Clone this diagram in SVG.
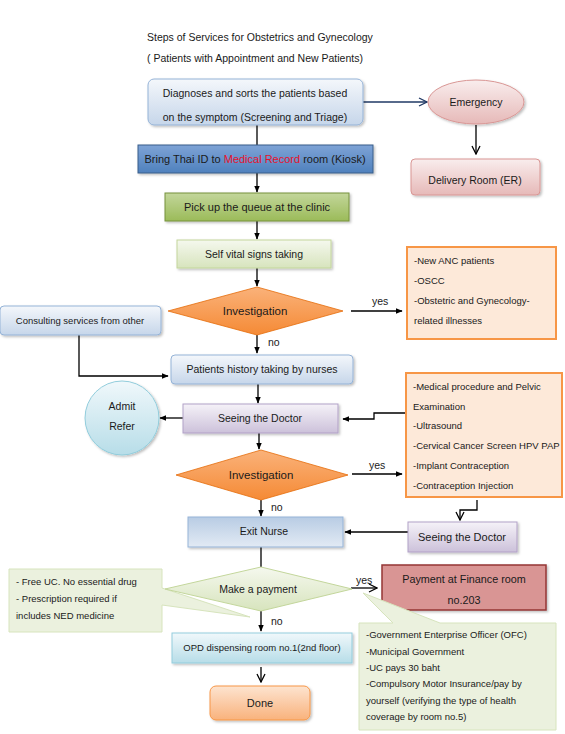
<svg xmlns="http://www.w3.org/2000/svg" width="565" height="734" viewBox="0 0 565 734">
<style>
text{font-family:"Liberation Sans",Arial,sans-serif;font-size:10.5px;fill:#1a1a1a}
.c{text-anchor:middle}
.sm{font-size:9.5px}
.ln{fill:none;stroke:#000;stroke-width:1.3}
</style>
<defs>
<marker id="ah" viewBox="0 0 10 10" refX="9" refY="5" markerWidth="7" markerHeight="7" orient="auto" markerUnits="userSpaceOnUse"><path d="M0,1 L10,5 L0,9 z" fill="#000"/></marker>
<marker id="ao" viewBox="0 0 10 10" refX="9" refY="5" markerWidth="10" markerHeight="10" orient="auto" markerUnits="userSpaceOnUse"><path d="M1,1 L9,5 L1,9" fill="none" stroke="#1f3864" stroke-width="1.3"/></marker>
<marker id="ak" viewBox="0 0 10 10" refX="9" refY="5" markerWidth="10" markerHeight="10" orient="auto" markerUnits="userSpaceOnUse"><path d="M1,1 L9,5 L1,9" fill="none" stroke="#000" stroke-width="1.3"/></marker>
<filter id="sh" x="-10%" y="-10%" width="120%" height="130%"><feDropShadow dx="1.5" dy="1.5" stdDeviation="1" flood-color="#000" flood-opacity="0.25"/></filter>
<linearGradient id="gBl" x1="0" y1="0" x2="0" y2="1"><stop offset="0" stop-color="#f4f7fb"/><stop offset="1" stop-color="#c6d6ea"/></linearGradient>
<linearGradient id="gBm" x1="0" y1="0" x2="0" y2="1"><stop offset="0" stop-color="#b8cce4"/><stop offset="1" stop-color="#e2eaf4"/></linearGradient>
<linearGradient id="gBd" x1="0" y1="0" x2="0" y2="1"><stop offset="0" stop-color="#7ea3d6"/><stop offset="1" stop-color="#4f81bd"/></linearGradient>
<linearGradient id="gGd" x1="0" y1="0" x2="0" y2="1"><stop offset="0" stop-color="#c3d69b"/><stop offset="1" stop-color="#9bbb59"/></linearGradient>
<linearGradient id="gGl" x1="0" y1="0" x2="0" y2="1"><stop offset="0" stop-color="#f5f8ee"/><stop offset="1" stop-color="#d7e4bd"/></linearGradient>
<linearGradient id="gOr" x1="0" y1="0" x2="0" y2="1"><stop offset="0" stop-color="#fab27a"/><stop offset="1" stop-color="#f58a35"/></linearGradient>
<linearGradient id="gPk" x1="0" y1="0" x2="0" y2="1"><stop offset="0" stop-color="#f9eded"/><stop offset="1" stop-color="#e6b9b8"/></linearGradient>
<linearGradient id="gCy" x1="0" y1="0" x2="0" y2="1"><stop offset="0" stop-color="#f0f8fb"/><stop offset="1" stop-color="#b7dde8"/></linearGradient>
<linearGradient id="gPu" x1="0" y1="0" x2="0" y2="1"><stop offset="0" stop-color="#f5f2f8"/><stop offset="1" stop-color="#ccc1da"/></linearGradient>
<linearGradient id="gDn" x1="0" y1="0" x2="0" y2="1"><stop offset="0" stop-color="#fde4d0"/><stop offset="1" stop-color="#f9b27c"/></linearGradient>
<clipPath id="cl1"><rect x="148" y="79" width="215" height="45"/></clipPath>
</defs>

<text x="147" y="41">Steps of Services for Obstetrics and Gynecology</text>
<text x="147" y="62">( Patients with Appointment and New Patients)</text>

<g id="connectors">
<path class="ln" d="M363,102 H427" style="stroke:#1f3864" marker-end="url(#ao)"/>
<path class="ln" d="M476,125 V154" marker-end="url(#ak)"/>
<path class="ln" d="M257,125 V145"/>
<path class="ln" d="M257,173 V192" marker-end="url(#ah)"/>
<path class="ln" d="M257,221 V239" marker-end="url(#ah)"/>
<path class="ln" d="M257,268 V286" marker-end="url(#ah)"/>
<path class="ln" d="M351,311 H402" marker-end="url(#ah)"/>
<path class="ln" d="M257,335 V353" marker-end="url(#ah)"/>
<path class="ln" d="M79,335 V376 H168" marker-end="url(#ah)"/>
<path class="ln" d="M258,384 V403" marker-end="url(#ah)"/>
<path class="ln" d="M183,418 H160" marker-end="url(#ah)"/>
<path class="ln" d="M406,413 H374 V419 H343" marker-end="url(#ah)"/>
<path class="ln" d="M259,433 V449" marker-end="url(#ah)"/>
<path class="ln" d="M352,474 H402" marker-end="url(#ah)"/>
<path class="ln" d="M261,500 V516" marker-end="url(#ah)"/>
<path class="ln" d="M477,500 V510 H460 V520" marker-end="url(#ak)"/>
<path class="ln" d="M408,532 H345" marker-end="url(#ah)"/>
<path class="ln" d="M261,547 V567"/>
<path class="ln" d="M351,588 H377" marker-end="url(#ak)"/>
<path class="ln" d="M261,611 V631" marker-end="url(#ah)"/>
<path class="ln" d="M261,667 V682" marker-end="url(#ak)"/>
<text x="372" y="305">yes</text>
<text x="268" y="346">no</text>
<text x="369" y="469">yes</text>
<text x="271" y="511">no</text>
<text x="356" y="584">yes</text>
<text x="271" y="625">no</text>
</g>

<g id="diagnoses"><rect x="148" y="79" width="215" height="46" rx="6" fill="url(#gBl)" stroke="#95b3d7" filter="url(#sh)"/><g clip-path="url(#cl1)"><text class="c" x="255" y="97">Diagnoses and sorts the patients based</text><text class="c" x="255" y="121">on the symptom (Screening and Triage)</text></g></g>
<g id="emergency"><ellipse cx="476" cy="102" rx="48" ry="22" fill="url(#gPk)" stroke="#d99694" filter="url(#sh)"/><text class="c" x="476" y="106">Emergency</text></g>
<g id="delivery"><rect x="411" y="159" width="129" height="36" rx="4" fill="url(#gPk)" stroke="#d99694" filter="url(#sh)"/><text class="c" x="475" y="184">Delivery Room (ER)</text></g>
<g id="kiosk"><rect x="138" y="145" width="235" height="28" fill="url(#gBd)" stroke="#385d8a" filter="url(#sh)"/><text class="c" x="255" y="163" style="font-size:11px">Bring Thai ID to <tspan fill="#e8102a">Medical Record</tspan> room (Kiosk)</text></g>
<g id="queue"><rect x="165" y="193" width="184" height="28" fill="url(#gGd)" stroke="#76923c" filter="url(#sh)"/><text class="c" x="257" y="211" style="font-size:11px">Pick up the queue at the clinic</text></g>
<g id="vital"><rect x="177" y="240" width="154" height="28" fill="url(#gGl)" stroke="#c3d69b" filter="url(#sh)"/><text class="c" x="254" y="258">Self vital signs taking</text></g>
<g id="investigation1"><polygon points="168,311 257,287 343,311 257,335" fill="url(#gOr)" stroke="#e46c0a" stroke-width="0.8"/><text class="c" x="255" y="315" style="font-size:11.5px">Investigation</text></g>
<g id="anc"><rect x="407" y="247" width="149" height="92" fill="#fde9d9" stroke="#f79646" stroke-width="2"/><text class="sm" x="414" y="264">-New ANC patients</text><text class="sm" x="414" y="284">-OSCC</text><text class="sm" x="414" y="304">-Obstetric and Gynecology-</text><text class="sm" x="414" y="324">related illnesses</text></g>
<g id="consulting"><rect x="0" y="306" width="161" height="29" rx="4" fill="url(#gBl)" stroke="#95b3d7" filter="url(#sh)"/><text class="c sm" x="80" y="324">Consulting services from other</text></g>
<g id="history"><rect x="171" y="355" width="182" height="29" rx="4" fill="url(#gBl)" stroke="#95b3d7" filter="url(#sh)"/><text class="c" x="262" y="373">Patients history taking by nurses</text></g>
<g id="doctor1"><rect x="183" y="404" width="155" height="29" fill="url(#gPu)" stroke="#b2a1c7" filter="url(#sh)"/><text class="c" x="260" y="422">Seeing the Doctor</text></g>
<g id="admit"><circle cx="122" cy="418" r="37" fill="url(#gCy)" stroke="#92cddc" filter="url(#sh)"/><text class="c" x="122" y="410">Admit</text><text class="c" x="122" y="430">Refer</text></g>
<g id="procedures"><rect x="406" y="373" width="156" height="124" fill="#fde9d9" stroke="#f79646" stroke-width="2"/><text class="sm" x="413" y="390">-Medical procedure and Pelvic</text><text class="sm" x="413" y="410">Examination</text><text class="sm" x="413" y="429">-Ultrasound</text><text class="sm" x="413" y="449">-Cervical Cancer Screen HPV PAP</text><text class="sm" x="413" y="469">-Implant Contraception</text><text class="sm" x="413" y="489">-Contraception Injection</text></g>
<g id="investigation2"><polygon points="176,475 261,450 348,475 261,500" fill="url(#gOr)" stroke="#e46c0a" stroke-width="0.8"/><text class="c" x="261" y="479" style="font-size:11.5px">Investigation</text></g>
<g id="exitnurse"><rect x="188" y="517" width="155" height="30" fill="url(#gBm)" stroke="#95b3d7" filter="url(#sh)"/><text class="c" x="264" y="535">Exit Nurse</text></g>
<g id="doctor2"><rect x="408" y="522" width="109" height="30" fill="url(#gPu)" stroke="#b2a1c7" filter="url(#sh)"/><text class="c" x="462" y="541" style="font-size:11px">Seeing the Doctor</text></g>
<g id="freeuc"><path d="M9,569 H162 V588 L250,617 L162,605 V632 H9 Z" fill="#ebf1de" stroke="#d7e4bd"/><text class="sm" x="16" y="585">- Free UC. No essential drug</text><text class="sm" x="16" y="602">- Prescription required if</text><text class="sm" x="16" y="619">includes NED medicine</text></g>
<g id="payment"><polygon points="165,589 261,567 352,589 261,611" fill="url(#gGl)" stroke="#c3d69b"/><text class="c" x="258" y="593">Make a payment</text></g>
<g id="finance"><rect x="382" y="565" width="164" height="45" fill="#d99594" stroke="#953735" stroke-width="1.5" filter="url(#sh)"/><text class="c" x="464" y="583" style="font-size:10.8px">Payment at Finance room</text><text class="c" x="464" y="604" style="font-size:10.8px">no.203</text></g>
<g id="rights"><path d="M359,623 H393 L363,593 L440,623 H556 V730 H359 Z" fill="#ebf1de" stroke="#d7e4bd"/><text class="sm" x="366" y="638">-Government Enterprise Officer (OFC)</text><text class="sm" x="366" y="655">-Municipal Government</text><text class="sm" x="366" y="671">-UC pays 30 baht</text><text class="sm" x="366" y="687">-Compulsory Motor Insurance/pay by</text><text class="sm" x="366" y="704">yourself (verifying the type of health</text><text class="sm" x="366" y="720">coverage by room no.5)</text></g>
<g id="opd"><rect x="172" y="633" width="180" height="30" fill="url(#gCy)" stroke="#93cddd" filter="url(#sh)"/><text class="c sm" x="262" y="651">OPD dispensing room no.1(2nd floor)</text></g>
<g id="done"><rect x="210" y="686" width="100" height="34" rx="6" fill="url(#gDn)" stroke="#f79646" filter="url(#sh)"/><text class="c" x="260" y="707" style="font-size:11px">Done</text></g>
</svg>
